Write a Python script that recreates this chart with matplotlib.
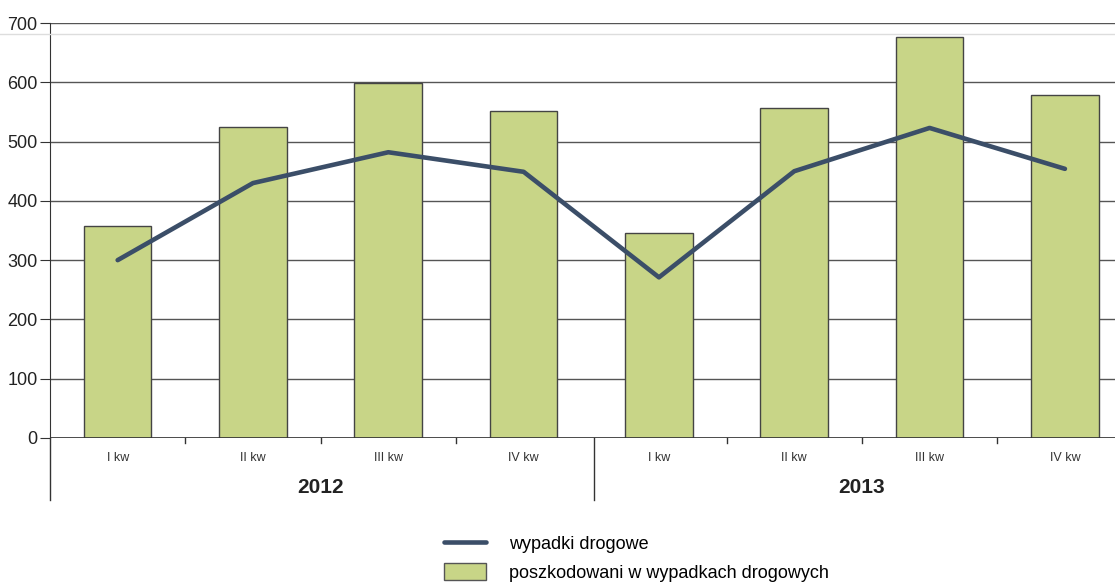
import matplotlib
matplotlib.use("Agg")
import matplotlib.pyplot as plt
from matplotlib.lines import Line2D
from matplotlib.patches import Patch
from matplotlib import font_manager
import numpy as np

## data
years = ["2012", "2013"]
quarters = ["I kw", "II kw", "III kw", "IV kw"]
poszkodowani = [358, 525, 598, 552, 346, 556, 676, 579]
wypadki = [300, 430, 482, 449, 271, 450, 523, 454]

bar_color = "#c8d587"
line_color = "#3b4e68"
installed = {f.name for f in font_manager.fontManager.ttflist}
has_narrow = "Liberation Sans Narrow" in installed
narrow = ["Liberation Sans Narrow" if has_narrow else "Liberation Sans", "DejaVu Sans"]
plt.rcParams["font.family"] = ["Liberation Sans", "DejaVu Sans"]

## figure
fig = plt.figure(figsize=(11.15, 5.82), dpi=100)
ax = fig.add_axes([50 / 1115, 1 - 438 / 582, 1 - 50 / 1115, 415 / 582])

x = np.arange(len(poszkodowani))
ax.bar(x, poszkodowani, width=0.5, color=bar_color, edgecolor="#444444",
       linewidth=1, zorder=3, label="poszkodowani w wypadkach drogowych")
ax.plot(x, wypadki, color=line_color, linewidth=3.3, zorder=4,
        solid_capstyle="round", label="wypadki drogowe")

ax.set_ylim(0, 700)
ax.set_xlim(-0.5, 7.37)
ax.set_yticks(range(0, 701, 100))
ax.yaxis.grid(True, color="#555555", linewidth=1)
ax.set_axisbelow(True)
for s in ["top", "right", "bottom"]:
    ax.spines[s].set_visible(False)
ax.spines["left"].set_color("#333333")
ax.tick_params(axis="y", length=7, color="#333333", labelsize=13, pad=2,
               labelcolor="#222222")

# x axis: ticks between categories, group labels below
ax.set_xticks([])
ax.axhline(0, color="#333333", linewidth=1.2, zorder=5)
for b in np.arange(0.5, 7, 1.0):
    if b == 3.5:
        continue
    ax.plot([b, b], [0, -0.012], transform=ax.get_xaxis_transform(),
            color="#333333", linewidth=1, clip_on=False)
for b in [-0.5, 3.52]:
    ax.plot([b, b], [0, -0.15], transform=ax.get_xaxis_transform(),
            color="#333333", linewidth=1, clip_on=False)

q_size = 10 if has_narrow else 9
y_size = 17 if has_narrow else 15
for i in range(len(x)):
    ax.text(x[i], -0.048, quarters[i % 4], transform=ax.get_xaxis_transform(),
            ha="center", va="center", fontsize=q_size, family=narrow, color="#333333")
for g, yr in enumerate(years):
    ax.text(g * 4 + 1.5, -0.12, yr, transform=ax.get_xaxis_transform(),
            ha="center", va="center", fontsize=y_size, fontweight="bold",
            family=narrow, color="#222222")

# faint line near top
fig.add_artist(Line2D([0, 1], [1 - 34 / 582] * 2, color="#dddddd", linewidth=1))

## legend
handles = [Line2D([0], [0], color=line_color, linewidth=3.3, solid_capstyle="round"),
           Patch(facecolor=bar_color, edgecolor="#555555")]
fig.legend(handles, ["wypadki drogowe", "poszkodowani w wypadkach drogowych"],
           loc="upper left", bbox_to_anchor=(428 / 1115, 1 - 518 / 582),
           frameon=False, fontsize=13, handlelength=2.3, handleheight=1.1,
           handletextpad=1.3, labelspacing=0.55)

fig.savefig("out.png", dpi=100)
